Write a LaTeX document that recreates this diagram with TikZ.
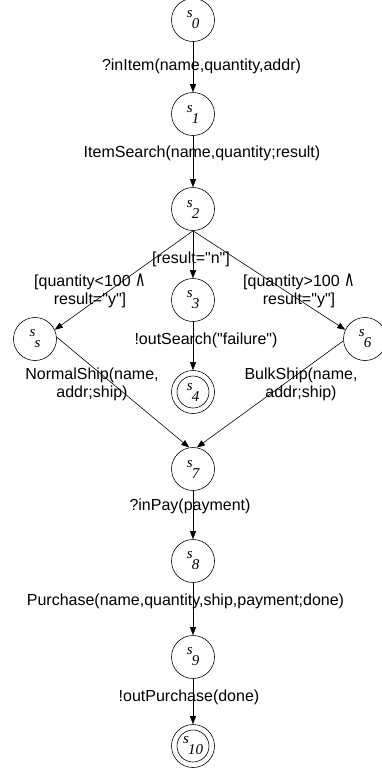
\documentclass[tikz,border=0pt]{standalone}
\usepackage{fontspec}
\setmainfont{Liberation Sans}[Ligatures=TeXOff]
\newfontfamily\tmsfont{Liberation Serif}
\newfontfamily\djvfont{DejaVu Sans}
\usetikzlibrary{arrows.meta}
\newcommand\stlab[1]{s\\[-4pt]\hspace*{5pt}#1}
\newcommand\myand{{\djvfont\scalebox{0.9}[1.35]{∧}}}
\begin{document}
\begin{tikzpicture}[x=1pt,y=-1pt,
  state/.style={circle,draw,line width=0.6pt,minimum size=43pt,inner sep=0pt,align=left,
    font=\tmsfont\itshape\fontsize{15}{15}\selectfont},
  arr/.style={-{Triangle[length=8pt,width=6pt]},line width=0.6pt},
  lab/.style={font=\fontsize{16}{18}\selectfont,align=center,inner sep=0pt}]
\useasboundingbox (0,0) rectangle (382,769);
% states
\node[state] (s0) at (193,20) {\stlab{0}};
\node[state] (s1) at (193,114) {\stlab{1}};
\node[state] (s2) at (193,209) {\stlab{2}};
\node[state] (s3) at (193,300) {\stlab{3}};
\node[state] (s4) at (193,392) {\stlab{4}};
\node[state] (ss) at (35,339) {\stlab{s}};
\node[state] (s6) at (365,339) {\stlab{6}};
\node[state] (s7) at (193,469) {\stlab{7}};
\node[state] (s8) at (193,561) {\stlab{8}};
\node[state] (s9) at (193,657) {\stlab{9}};
\node[state] (s10) at (193,746) {\stlab{10}};
\draw[line width=0.6pt] (s4.center) circle[radius=16];
\draw[line width=0.6pt] (s10.center) circle[radius=16];
% edges
\draw[arr] (s0) -- (s1);
\draw[arr] (s1) -- (s2);
\draw[arr] (s2.south) -- (s3);
\draw[arr] (s2.south) -- (ss.25);
\draw[arr] (s2.south) -- (s6.155);
\draw[arr] (s3) -- (s4);
\draw[arr] (ss.5) -- (s7.100);
\draw[arr] (s6.185) -- (s7.80);
\draw[arr] (s7) -- (s8);
\draw[arr] (s8) -- (s9);
\draw[arr] (s9) -- (s10);
% labels
\node[lab] (l01) at (201.5,66) {?inItem(name,quantity,addr)};
\node[lab] (l12) at (202,153) {ItemSearch(name,quantity;result)};
\node[lab] (l23) at (191,259) {[result="n"]};
\node[lab] (l2s) at (90,291) {[quantity<100 \myand\\result="y"]};
\node[lab] (l26) at (299,291) {[quantity>100 \myand\\result="y"]};
\node[lab] (l34) at (206,340) {!outSearch("failure")};
\node[lab] (ls7) at (92,384) {NormalShip(name,\\addr;ship)};
\node[lab] (l67) at (301,384) {BulkShip(name,\\addr;ship)};
\node[lab] (l78) at (190,506) {?inPay(payment)};
\node[lab] (l89) at (185.5,601) {Purchase(name,quantity,ship,payment;done)};
\node[lab] (l910) at (189,697) {!outPurchase(done)};
\end{tikzpicture}
\end{document}
